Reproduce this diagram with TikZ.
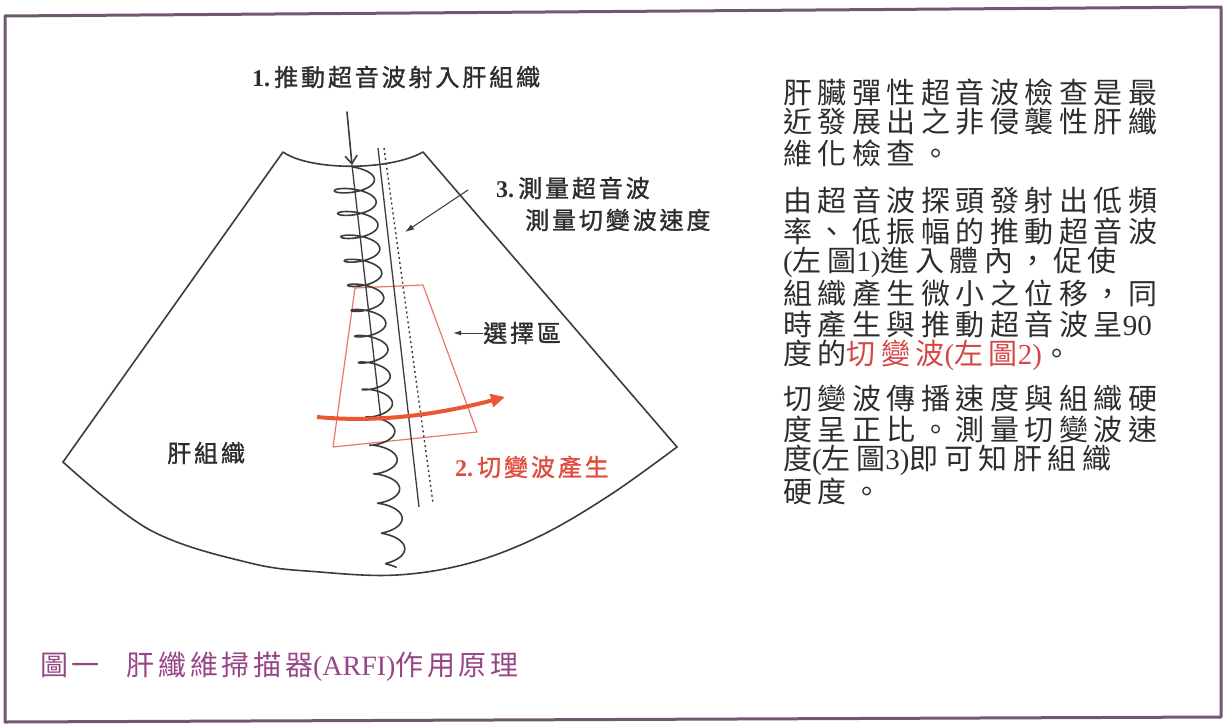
\documentclass[tikz,border=0pt]{standalone}
\usepackage{fontspec}
\usetikzlibrary{arrows.meta}
\newfontfamily\cjkbody[LetterSpace=19]{Noto Sans CJK TC}
\newfontfamily\cjklab[LetterSpace=12,FakeBold=1.2]{Noto Sans CJK TC}
\newfontfamily\cjkcap[LetterSpace=13]{Noto Sans CJK TC}
\newfontfamily\latn{Liberation Serif}
\definecolor{inkgray}{RGB}{60,60,60}
\definecolor{textgray}{RGB}{45,45,45}
\definecolor{framecol}{RGB}{112,88,112}
\definecolor{capcol}{RGB}{150,70,135}
\definecolor{boxred}{RGB}{232,120,110}
\definecolor{wavered}{RGB}{236,86,52}
\definecolor{labred}{RGB}{222,78,62}
\definecolor{bodyred}{RGB}{215,70,70}
\tikzset{
  ink/.style={draw=inkgray, line width=1.6pt, line cap=round, line join=round},
  lab/.style={inner sep=0pt, anchor=west, text=textgray, font=\fontsize{24}{26}\selectfont\cjklab},
  body/.style={inner sep=0pt, anchor=west, text=textgray, font=\fontsize{29}{31}\selectfont\cjkbody},
  capstyle/.style={inner sep=0pt, anchor=west, text=capcol, font=\fontsize{28}{30}\selectfont\cjkcap},
  pointer/.style={draw=inkgray, line width=1pt, -{Latex[length=9pt,width=6pt]}}
}
\begin{document}
\begin{tikzpicture}[x=1pt,y=-1pt]
\useasboundingbox (0,0) rectangle (1225,725);
\fill[white] (0,0) rectangle (1225,725);

% outer frame
\draw[framecol, line width=3pt, line join=round] (5,16) -- (1221,7) -- (1221,717) -- (5,722) -- cycle;

% ultrasound sector
\coordinate (tl) at (283,152);
\coordinate (tr) at (423,152);
\coordinate (bl) at (63,462);
\coordinate (br) at (677,447);
\draw[ink] (bl) -- (tl) .. controls (310,171) and (390,171) .. (tr) -- (br);
\draw[ink] plot[smooth, tension=0.6] coordinates {(63,462) (150,530) (250,563) (320,572) (397,575) (470,563) (540,536) (610,495) (677,447)};

% selection region
\draw[boxred, line width=1.2pt, line join=round] (355,288) -- (423,285) -- (477,432) -- (333,447) -- cycle;

% measurement lines
\coordinate (solidtop) at (378,148);
\coordinate (solidbot) at (419,507);
\coordinate (dottop) at (384,148);
\coordinate (dotbot) at (433,503);
\draw[inkgray, line width=1.3pt] (solidtop) -- (solidbot);
\draw[inkgray, line width=1.4pt, dash pattern=on 2pt off 3pt] (dottop) -- (dotbot);

% push pulse: entry arrow, axis and coil (one turn per unit of \t;
% turns widen apart and shrink towards the depth)
\coordinate (pushstart) at (347,112);
\coordinate (axtop) at (352,165);
\coordinate (axbot) at (381,420);
\draw[ink, -{Straight Barb[length=8pt,width=12pt]}] (pushstart) -- (axtop);
\draw[ink, line width=1.3pt] (axtop) -- (axbot);
\draw[ink, line width=1.6pt] plot[variable=\t, domain=0:15, samples=1500]
  ({352 + 0.11*(9 + 22*\t + 0.3*\t*\t) + (21 - 11*\t/15)*sin(\t*360)},
   {174 + 22*\t + 0.3*\t*\t - (7 - 3*\t/15)*cos(\t*360)});

% shear wave
\coordinate (shearstart) at (317,417);
\coordinate (shearend) at (505,397);
\draw[wavered, line width=4pt, -{Triangle[length=14pt,width=13pt]}]
  (shearstart) .. controls (380,423) and (440,414) .. (shearend);

% labels
\node[lab] (lab1) at (252,77) {{\latn\bfseries 1.}\,推動超音波射入肝組織};
\node[lab] (lab3a) at (496,188) {{\latn\bfseries 3.}\,測量超音波};
\node[lab] (lab3b) at (525,220) {測量切變波速度};
\node[lab] (labsel) at (483,333) {選擇區};
\node[lab, text=labred] (lab2) at (455,467) {{\latn\bfseries 2.}\,切變波產生};
\node[lab] (labliver) at (167,453) {肝組織};

\coordinate (lab3from) at (468,190);
\coordinate (lab3to) at (405,232);
\draw[pointer] (lab3from) -- (lab3to);
\coordinate (selto) at (453,333);
\draw[pointer, -{Latex[length=8pt,width=5pt]}] (labsel.west) -- (selto);

% explanatory text
\node[body] (t1) at (783,92) {肝臟彈性超音波檢查是最};
\node[body] (t2) at (783,122) {近發展出之非侵襲性肝纖};
\node[body] (t3) at (783,153) {維化檢查。};
\node[body] (t4) at (783,200) {由超音波探頭發射出低頻};
\node[body] (t5) at (783,231) {率、低振幅的推動超音波};
\node[body] (t6) at (783,262) {{\latn(}左圖{\latn 1)}進入體內，促使};
\node[body] (t7) at (783,293) {組織產生微小之位移，同};
\node[body] (t8) at (783,324) {時產生與推動超音波呈{\latn 90}};
\node[body] (t9) at (783,355) {度的{\color{bodyred}切變波{\latn(}左圖{\latn 2)}}。};
\node[body] (t10) at (783,398) {切變波傳播速度與組織硬};
\node[body] (t11) at (783,429) {度呈正比。測量切變波速};
\node[body] (t12) at (783,460) {度{\latn(}左圖{\latn 3)}即可知肝組織};
\node[body] (t13) at (783,491) {硬度。};

% caption
\node[capstyle] (cap) at (40,667) {圖一\hspace{27pt}肝纖維掃描器{\latn(ARFI)}作用原理};
\end{tikzpicture}
\end{document}
